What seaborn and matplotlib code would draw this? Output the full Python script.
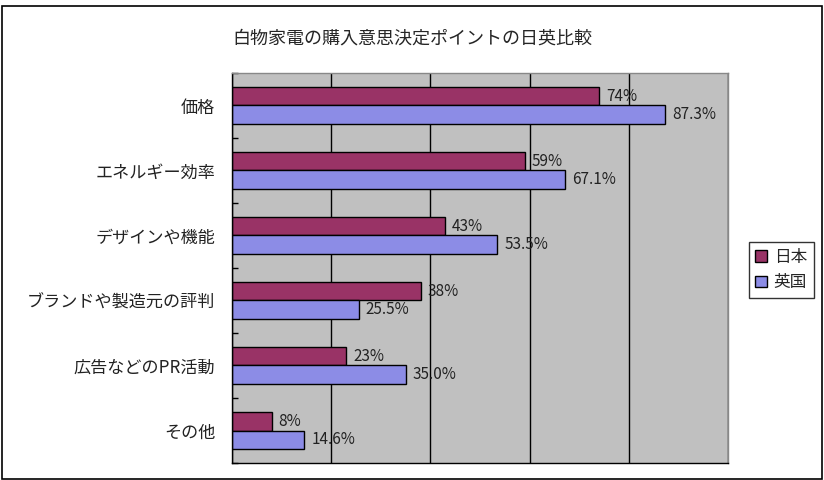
import matplotlib
matplotlib.use("Agg")
import matplotlib.pyplot as plt
import seaborn as sns
import pandas as pd
from matplotlib.patches import Rectangle

categories = ["価格", "エネルギー効率", "デザインや機能", "ブランドや製造元の評判", "広告などのPR活動", "その他"]
japan = [74, 59, 43, 38, 23, 8]
uk = [87.3, 67.1, 53.5, 25.5, 35.0, 14.6]
japan_labels = ["74%", "59%", "43%", "38%", "23%", "8%"]
uk_labels = ["87.3%", "67.1%", "53.5%", "25.5%", "35.0%", "14.6%"]
series = ["日本", "英国"]

df = pd.DataFrame({
    "item": categories * 2,
    "value": japan + uk,
    "country": [series[0]] * len(categories) + [series[1]] * len(categories),
})

sns.set_style("white")
plt.rcParams["font.family"] = ["Noto Sans CJK JP", "DejaVu Sans"]

fig = plt.figure(figsize=(8.24, 4.8), dpi=100)
ax = fig.add_axes([0.2816, 0.0354, 0.6019, 0.8126])

sns.barplot(data=df, y="item", x="value", hue="country", hue_order=series,
            palette=["#993366", "#8C8CE6"], orient="h", width=0.58,
            edgecolor="black", linewidth=1, saturation=1, ax=ax, legend=True)

ax.set_facecolor("#C0C0C0")
ax.set_xlim(0, 100)
ax.set_ylim(5.5, -0.5)
ax.set_xticks([0, 20, 40, 60, 80, 100])
ax.set_xticklabels([])
ax.tick_params(axis="x", length=0)
ax.grid(axis="x", color="black", linewidth=1)
ax.set_axisbelow(True)
ax.set_xlabel("")
ax.set_ylabel("")
ax.tick_params(axis="y", which="major", left=False, length=0, labelsize=12.3, pad=12, labelcolor="#222222")
ax.set_yticks([i - 0.5 for i in range(len(categories) + 1)], minor=True)
ax.tick_params(axis="y", which="minor", left=True, length=4, width=1, direction="in", color="black")
for s in ax.spines.values():
    s.set_color("black")
    s.set_linewidth(1)
ax.spines["top"].set_color("#888888")
ax.spines["right"].set_color("#888888")

ax.bar_label(ax.containers[0], labels=japan_labels, padding=5, fontsize=11, color="#222222")
ax.bar_label(ax.containers[1], labels=uk_labels, padding=5, fontsize=11, color="#222222")

ax.legend_.remove()
handles = [Rectangle((0, 0), 1, 1, facecolor=c, edgecolor="black") for c in ["#993366", "#8C8CE6"]]
fig.legend(handles, series, loc="center", bbox_to_anchor=(0.948, 0.4375), frameon=True,
           fancybox=False, edgecolor="black", fontsize=12, handlelength=0.7, handleheight=0.7,
           handletextpad=0.4, borderpad=0.4, labelspacing=0.5)

fig.text(0.5, 0.92, "白物家電の購入意思決定ポイントの日英比較", ha="center", va="center", fontsize=13)

fig.patches.append(Rectangle((0.002, 0.002), 0.996, 0.985, transform=fig.transFigure,
                             fill=False, edgecolor="black", linewidth=1.2))

fig.savefig("out.png", dpi=100)
